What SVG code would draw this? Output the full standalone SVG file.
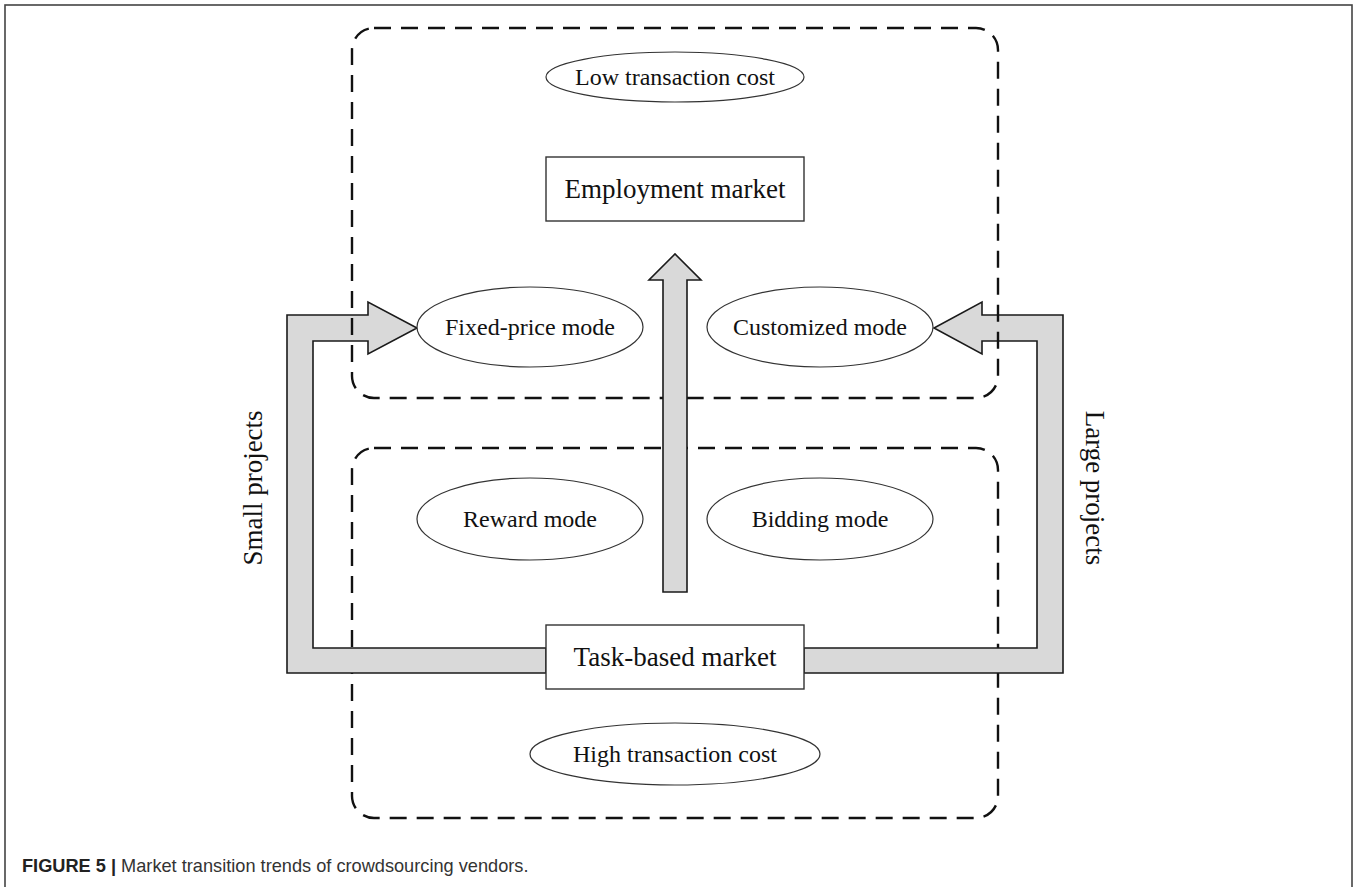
<svg xmlns="http://www.w3.org/2000/svg" width="1357" height="887" viewBox="0 0 1357 887">
  <defs>
    <style>
      .frame { fill: none; stroke: #444; stroke-width: 1.6; }
      .zone { fill: none; stroke: #111; stroke-width: 2.4; stroke-dasharray: 17 10; }
      .oval { fill: #fff; stroke: #333; stroke-width: 1.2; }
      .box { fill: #fff; stroke: #333; stroke-width: 1.4; }
      .flow { fill: #d9d9d9; stroke: #1a1a1a; stroke-width: 1.6; stroke-linejoin: miter; }
      .lbl { font-family: "Liberation Serif", "Times New Roman", serif; fill: #111; text-anchor: middle; }
      .s24 { font-size: 24px; }
      .s27 { font-size: 27px; }
      .cap { font-family: "Liberation Sans", Arial, sans-serif; font-size: 18.2px; fill: #333; }
    </style>
  </defs>

  <rect width="1357" height="887" fill="#fff"/>
  <rect class="frame" x="5" y="5" width="1347" height="900"/>

  <!-- lower zone: task-based market -->
  <g id="zone-task">
    <rect class="zone" x="352" y="448" width="646" height="370" rx="22" ry="22"/>
  </g>

  <!-- side flows from the task-based market -->
  <g id="connectors">
    <path id="flow-small" class="flow" d="M546,673 L287,673 L287,315 L368,315 L368,302 L417,328 L368,354 L368,341 L313,341 L313,648 L546,648 Z"/>
    <path id="flow-large" class="flow" d="M804,673 L1063,673 L1063,315 L982,315 L982,302 L934,328 L982,354 L982,341 L1037,341 L1037,648 L804,648 Z"/>
  </g>

  <!-- upper zone: employment market -->
  <g id="zone-employment">
    <rect class="zone" x="352" y="28" width="646" height="370" rx="22" ry="22"/>
  </g>

  <!-- central upward flow -->
  <g id="flow-up">
    <path class="flow" d="M663,592 L663,280 L649,280 L675,254 L701,280 L687,280 L687,592 Z"/>
  </g>

  <g id="low-cost">
    <ellipse class="oval" cx="675" cy="77" rx="129" ry="25"/>
    <text class="lbl s24" x="675" y="85">Low transaction cost</text>
  </g>

  <g id="employment-market">
    <rect class="box" x="546" y="157" width="258" height="64"/>
    <text class="lbl s27" x="675" y="198">Employment market</text>
  </g>

  <g id="fixed-price">
    <ellipse class="oval" cx="530" cy="327" rx="113" ry="40"/>
    <text class="lbl s24" x="530" y="335">Fixed-price mode</text>
  </g>

  <g id="customized">
    <ellipse class="oval" cx="820" cy="327" rx="113" ry="40"/>
    <text class="lbl s24" x="820" y="335">Customized mode</text>
  </g>

  <g id="reward">
    <ellipse class="oval" cx="530" cy="519" rx="113" ry="41"/>
    <text class="lbl s24" x="530" y="527">Reward mode</text>
  </g>

  <g id="bidding">
    <ellipse class="oval" cx="820" cy="519" rx="113" ry="41"/>
    <text class="lbl s24" x="820" y="527">Bidding mode</text>
  </g>

  <g id="task-market">
    <rect class="box" x="546" y="625" width="258" height="64"/>
    <text class="lbl s27" x="675" y="666">Task-based market</text>
  </g>

  <g id="high-cost">
    <ellipse class="oval" cx="675" cy="754" rx="145" ry="31"/>
    <text class="lbl s24" x="675" y="762">High transaction cost</text>
  </g>

  <g id="label-small">
    <text class="lbl s27" transform="translate(262,488) rotate(-90)">Small projects</text>
  </g>
  <g id="label-large">
    <text class="lbl s27" transform="translate(1086,488) rotate(90)">Large projects</text>
  </g>

  <text class="cap" x="22" y="872"><tspan font-weight="bold" fill="#222">FIGURE 5 |</tspan> Market transition trends of crowdsourcing vendors.</text>
</svg>
